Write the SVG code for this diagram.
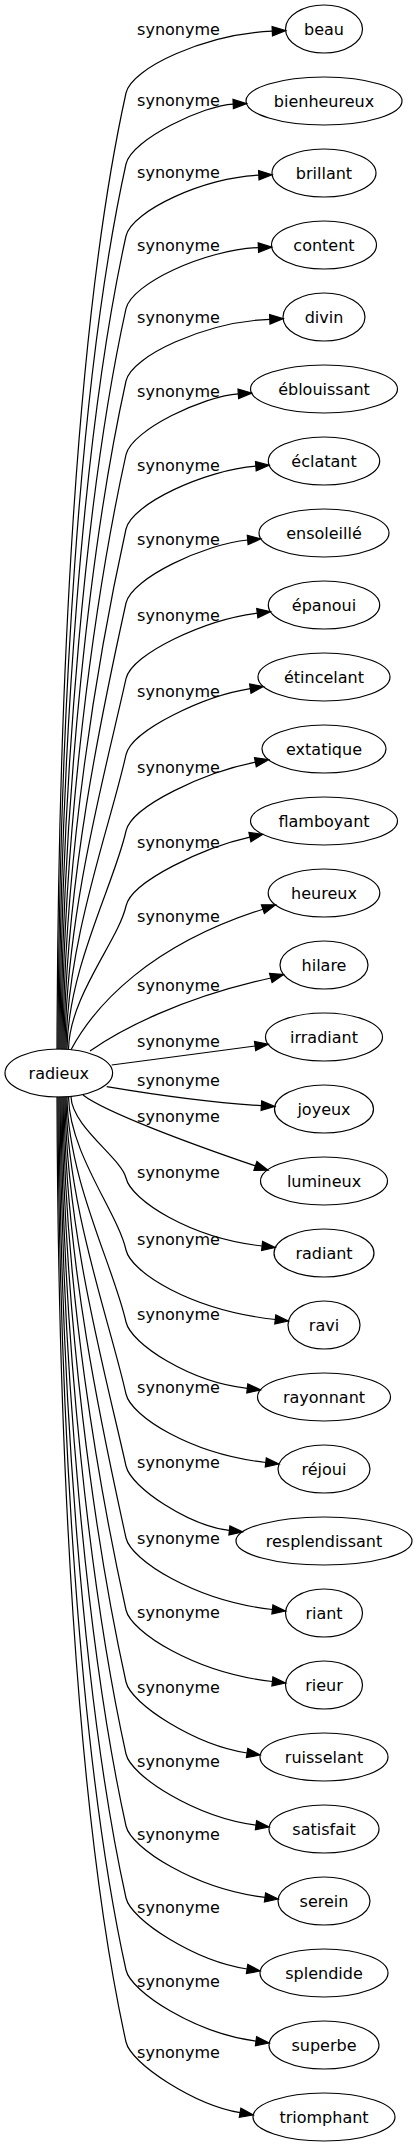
<svg xmlns="http://www.w3.org/2000/svg" width="417" height="2147" viewBox="0 0 417 2147">
<style>
text{font-family:"DejaVu Sans","Liberation Sans",sans-serif;font-size:16px;fill:#000;text-anchor:middle}
.node ellipse{fill:none;stroke:#000;stroke-width:1.2}
.edge path{fill:none;stroke:#000;stroke-width:1.2}
.edge polygon{fill:#000;stroke:#000;stroke-width:1.2}
</style>
<rect width="417" height="2147" fill="#fff"/>
<g id="connectors">
<g class="edge"><path d="M57,1049.2 C58,695.4 75.3,322.5 126,93 C131.6,68 205,34 272.3,31.2"/><polygon points="285.6,30.6 272.5,35.9 272.1,26.5"/><text x="178.5" y="35">synonyme</text></g>
<g class="edge"><path d="M58,1049.2 C59,721.7 79.1,376.4 126,164 C131.6,139 205,105 233.2,104.05"/><polygon points="246.5,103.6 233.4,108.7 233,99.4"/><text x="178.5" y="106">synonyme</text></g>
<g class="edge"><path d="M59,1049.2 C60,748.3 82.9,431.2 126,236 C131.6,211 205,177 258.8,175.2"/><polygon points="272.1,174.7 259,179.9 258.6,170.5"/><text x="178.5" y="178">synonyme</text></g>
<g class="edge"><path d="M60,1049.2 C61,775.2 86.8,486.4 126,308.7 C131.6,283.7 205,249.7 258.4,247.6"/><polygon points="271.7,247.1 258.6,252.3 258.2,242.9"/><text x="178.5" y="250.7">synonyme</text></g>
<g class="edge"><path d="M61,1049.2 C62,802 90.6,541.4 126,381 C131.6,356 205,322 269.8,319.3"/><polygon points="283.1,318.7 270,324 269.6,314.6"/><text x="178.5" y="323">synonyme</text></g>
<g class="edge"><path d="M62,1049.2 C63,829.2 94.5,597.4 126,454.7 C131.6,429.7 205,395.7 238.3,393.8"/><polygon points="251.6,393.1 238.6,398.5 238,389.1"/><text x="178.5" y="396.7">synonyme</text></g>
<g class="edge"><path d="M63,1049.2 C64,856.7 98.4,653.8 126,529 C131.6,504 205,470 255.8,466.2"/><polygon points="269.1,465.2 256.2,470.9 255.5,461.5"/><text x="178.5" y="471">synonyme</text></g>
<g class="edge"><path d="M64,1049.2 C65,884.1 102.4,710.1 126,603 C131.6,578 205,544 247.7,540"/><polygon points="260.9,538.8 248.1,544.7 247.3,535.4"/><text x="178.5" y="545">synonyme</text></g>
<g class="edge"><path d="M65,1049.2 C66,912.1 106.4,767.6 126,678.7 C131.6,653.7 205,619.7 257.3,613.2"/><polygon points="270.5,611.6 257.9,617.8 256.7,608.6"/><text x="178.5" y="620.7">synonyme</text></g>
<g class="edge"><path d="M66,1049.2 C67,940.2 110.4,825.4 126,754.7 C131.6,729.7 205,695.7 250.3,688.6"/><polygon points="263.4,686.5 251,693.2 249.6,684"/><text x="178.5" y="696.7">synonyme</text></g>
<g class="edge"><path d="M67,1049.2 C68,968.5 114.4,883.4 126,831 C131.6,806 205,772 255.4,762.2"/><polygon points="268.5,759.7 256.3,766.8 254.5,757.6"/><text x="178.5" y="773">synonyme</text></g>
<g class="edge"><path d="M68.5,1049.2 C69.5,996.2 118.4,940.4 126,906 C131.6,881 205,847 249.9,837.1"/><polygon points="262.9,834.3 250.9,841.7 248.9,832.5"/><text x="178.5" y="848">synonyme</text></g>
<g class="edge"><path d="M71,1049.7 C95,1005 150,945 262.9,909.2"/><polygon points="275.5,904.85 264.4,913.6 261.4,904.8"/><text x="178.5" y="922">synonyme</text></g>
<g class="edge"><path d="M90,1051 C120,1030 180,998 270.8,978"/><polygon points="283.6,974.45 272.1,982.5 269.5,973.5"/><text x="178.5" y="991">synonyme</text></g>
<g class="edge"><path d="M111.7,1065 C150,1060 210,1052 255.1,1046"/><polygon points="268.3,1044.3 255.7,1050.6 254.5,1041.4"/><text x="178.5" y="1046.7">synonyme</text></g>
<g class="edge"><path d="M106.7,1086.7 C150,1094 210,1102.6 261.4,1105.7"/><polygon points="274.7,1106.5 261.1,1110.4 261.7,1101"/><text x="178.5" y="1086">synonyme</text></g>
<g class="edge"><path d="M83,1095 C105,1112 189.1,1143.3 255.4,1165.9"/><polygon points="268,1170.2 253.9,1170.3 256.9,1161.5"/><text x="178.5" y="1122">synonyme</text></g>
<g class="edge"><path d="M71,1096.8 C72,1126.8 121.7,1158.5 126,1178 C131,1200 190,1238 262.1,1246"/><polygon points="275.3,1247.5 261.6,1250.6 262.6,1241.4"/><text x="178.5" y="1178">synonyme</text></g>
<g class="edge"><path d="M68.5,1096.8 C69.5,1153.5 117.9,1213.2 126,1250 C131,1272 190,1310 275.3,1319.5"/><polygon points="288.5,1321 274.8,1324.1 275.8,1314.9"/><text x="178.5" y="1245">synonyme</text></g>
<g class="edge"><path d="M67,1096.8 C68,1180.1 114.1,1268 126,1322 C131,1344 190,1382 247.3,1388.4"/><polygon points="260.5,1389.9 246.8,1393 247.8,1383.8"/><text x="178.5" y="1320">synonyme</text></g>
<g class="edge"><path d="M66,1096.8 C67,1206.8 110.2,1322.7 126,1394 C131,1416 190,1454 265.8,1462.5"/><polygon points="279,1464 265.3,1467.1 266.3,1457.9"/><text x="178.5" y="1393">synonyme</text></g>
<g class="edge"><path d="M65,1096.8 C66,1233.4 106.4,1377.4 126,1466 C131,1488 190,1526 229.4,1530.4"/><polygon points="242.6,1531.9 228.9,1535 229.9,1525.8"/><text x="178.5" y="1468">synonyme</text></g>
<g class="edge"><path d="M64,1096.8 C65,1260.2 102.6,1432.1 126,1538 C131,1560 195,1601 272.4,1609.5"/><polygon points="285.6,1611 271.9,1614.1 272.9,1604.9"/><text x="178.5" y="1544">synonyme</text></g>
<g class="edge"><path d="M63,1096.8 C64,1286.7 98.8,1486.8 126,1610 C131,1632 195,1673 272.4,1681.5"/><polygon points="285.6,1683 271.9,1686.1 272.9,1676.9"/><text x="178.5" y="1618">synonyme</text></g>
<g class="edge"><path d="M62,1096.8 C63,1313.3 95,1541.6 126,1682 C131,1704 195,1745 247.1,1753"/><polygon points="260.2,1755 246.4,1757.6 247.8,1748.4"/><text x="178.5" y="1693">synonyme</text></g>
<g class="edge"><path d="M61,1096.8 C62,1340 91.2,1596.3 126,1754 C131,1776 195,1817 256,1825.2"/><polygon points="269.2,1827 255.4,1829.8 256.6,1820.6"/><text x="178.5" y="1767">synonyme</text></g>
<g class="edge"><path d="M60,1096.8 C61,1366.6 87.4,1651 126,1826 C131,1848 195,1889 265,1897.4"/><polygon points="278.2,1899 264.4,1902 265.6,1892.8"/><text x="178.5" y="1840">synonyme</text></g>
<g class="edge"><path d="M59,1096.8 C60,1393.2 83.5,1705.7 126,1898 C131,1920 195,1961 247.1,1969"/><polygon points="260.2,1971 246.4,1973.6 247.8,1964.4"/><text x="178.5" y="1913">synonyme</text></g>
<g class="edge"><path d="M58,1096.8 C59,1419.9 79.7,1760.4 126,1970 C131,1992 195,2033 256,2041.2"/><polygon points="269.2,2043 255.4,2045.8 256.6,2036.6"/><text x="178.5" y="1987">synonyme</text></g>
<g class="edge"><path d="M57,1096.8 C58,1446.5 75.9,1815.2 126,2042 C131,2064 195,2105 240.1,2112.7"/><polygon points="253.25,2115 239.3,2117.3 240.9,2108.1"/><text x="178.5" y="2058">synonyme</text></g>
</g>
<g id="radieux" class="node"><ellipse cx="58.8" cy="1073" rx="53.8" ry="24"/><text x="58.8" y="1079">radieux</text></g>
<g id="beau" class="node"><ellipse cx="324" cy="29" rx="38.5" ry="24"/><text x="324" y="35">beau</text></g>
<g id="bienheureux" class="node"><ellipse cx="324" cy="101" rx="78" ry="24"/><text x="324" y="107">bienheureux</text></g>
<g id="brillant" class="node"><ellipse cx="324" cy="173" rx="52" ry="24"/><text x="324" y="179">brillant</text></g>
<g id="content" class="node"><ellipse cx="324" cy="245" rx="52.5" ry="24"/><text x="324" y="251">content</text></g>
<g id="divin" class="node"><ellipse cx="324" cy="317" rx="41" ry="24"/><text x="324" y="323">divin</text></g>
<g id="eblouissant" class="node"><ellipse cx="324" cy="389" rx="73.5" ry="24"/><text x="324" y="395">éblouissant</text></g>
<g id="eclatant" class="node"><ellipse cx="324" cy="461" rx="55.7" ry="24"/><text x="324" y="467">éclatant</text></g>
<g id="ensoleille" class="node"><ellipse cx="324" cy="533" rx="65" ry="24"/><text x="324" y="539">ensoleillé</text></g>
<g id="epanoui" class="node"><ellipse cx="324" cy="605" rx="55.7" ry="24"/><text x="324" y="611">épanoui</text></g>
<g id="etincelant" class="node"><ellipse cx="324" cy="677" rx="66" ry="24"/><text x="324" y="683">étincelant</text></g>
<g id="extatique" class="node"><ellipse cx="324" cy="749" rx="62" ry="24"/><text x="324" y="755">extatique</text></g>
<g id="flamboyant" class="node"><ellipse cx="324" cy="821" rx="73.5" ry="24"/><text x="324" y="827">flamboyant</text></g>
<g id="heureux" class="node"><ellipse cx="324" cy="893" rx="55.8" ry="24"/><text x="324" y="899">heureux</text></g>
<g id="hilare" class="node"><ellipse cx="324" cy="965" rx="44" ry="24"/><text x="324" y="971">hilare</text></g>
<g id="irradiant" class="node"><ellipse cx="324" cy="1037" rx="58.5" ry="24"/><text x="324" y="1043">irradiant</text></g>
<g id="joyeux" class="node"><ellipse cx="324" cy="1109" rx="49.5" ry="24"/><text x="324" y="1115">joyeux</text></g>
<g id="lumineux" class="node"><ellipse cx="324" cy="1181" rx="63.5" ry="24"/><text x="324" y="1187">lumineux</text></g>
<g id="radiant" class="node"><ellipse cx="324" cy="1253" rx="50" ry="24"/><text x="324" y="1259">radiant</text></g>
<g id="ravi" class="node"><ellipse cx="324" cy="1325" rx="36" ry="24"/><text x="324" y="1331">ravi</text></g>
<g id="rayonnant" class="node"><ellipse cx="324" cy="1397" rx="66.5" ry="24"/><text x="324" y="1403">rayonnant</text></g>
<g id="rejoui" class="node"><ellipse cx="324" cy="1469" rx="46" ry="24"/><text x="324" y="1475">réjoui</text></g>
<g id="resplendissant" class="node"><ellipse cx="324" cy="1541" rx="88" ry="24"/><text x="324" y="1547">resplendissant</text></g>
<g id="riant" class="node"><ellipse cx="324" cy="1613" rx="38.5" ry="24"/><text x="324" y="1619">riant</text></g>
<g id="rieur" class="node"><ellipse cx="324" cy="1685" rx="38.5" ry="24"/><text x="324" y="1691">rieur</text></g>
<g id="ruisselant" class="node"><ellipse cx="324" cy="1757" rx="64" ry="24"/><text x="324" y="1763">ruisselant</text></g>
<g id="satisfait" class="node"><ellipse cx="324" cy="1829" rx="55" ry="24"/><text x="324" y="1835">satisfait</text></g>
<g id="serein" class="node"><ellipse cx="324" cy="1901" rx="46" ry="24"/><text x="324" y="1907">serein</text></g>
<g id="splendide" class="node"><ellipse cx="324" cy="1973" rx="64" ry="24"/><text x="324" y="1979">splendide</text></g>
<g id="superbe" class="node"><ellipse cx="324" cy="2045" rx="55" ry="24"/><text x="324" y="2051">superbe</text></g>
<g id="triomphant" class="node"><ellipse cx="324" cy="2117" rx="71" ry="24"/><text x="324" y="2123">triomphant</text></g>
</svg>
